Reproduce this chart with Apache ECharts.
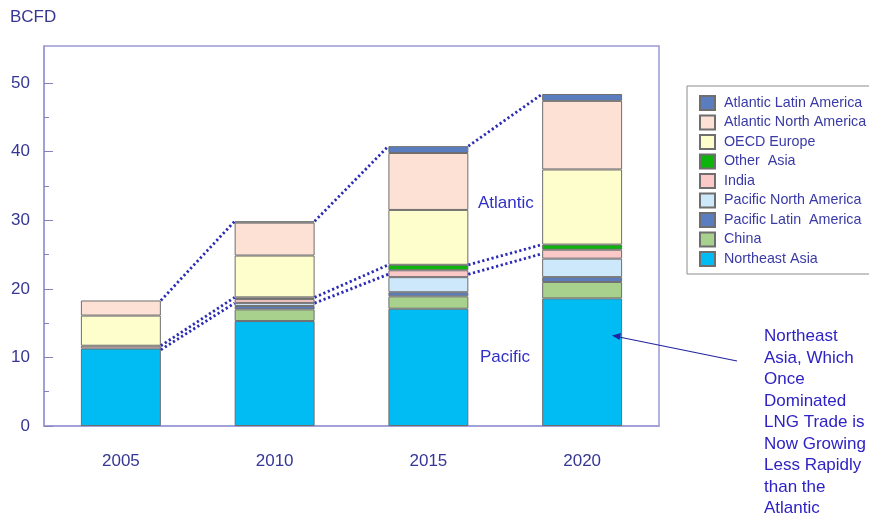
<!DOCTYPE html>
<html>
<head>
<meta charset="utf-8">
<script src="https://cdn.jsdelivr.net/npm/echarts@6/dist/echarts.min.js"></script>
<style>
  html, body { margin: 0; padding: 0; background: #fff; }
  #chart { width: 869px; height: 517px; }
</style>
</head>
<body>
<div id="chart"></div>
<script>
// LNG trade by region, BCFD
const years = ['2005', '2010', '2015', '2020'];
const northeastAsia        = [11.3, 15.3, 17.1, 18.6];
const china                = [null, 1.7, 1.8, 2.4];
const pacificLatinAmerica  = [null, 0.5, 0.6, 0.7];
const pacificNorthAmerica  = [null, 0.45, 2.2, 2.7];
const india                = [0.4, 0.55, 1.0, 1.3];
const otherAsia            = [null, 0.25, 0.8, 0.75];
const oecdEurope           = [4.4, 6.1, 8.0, 10.95];
const atlanticNorthAmerica = [2.2, 4.8, 8.3, 10.0];
const atlanticLatinAmerica = [null, 0.2, 1.0, 1.0];

const majorTicks = [0, 10, 20, 30, 40, 50];
const minorTicks = [5, 15, 25, 35, 45];

const FONT = '"Liberation Sans", Arial, sans-serif';
const AXIS_COLOR = '#9c9ad6';
const TICK_COLOR = '#8482bc';
const LABEL_COLOR = '#363694';

// stacking order, bottom to top
const stackSeries = [
  { name: 'Northeast Asia',          data: northeastAsia,        color: '#00bcf2' },
  { name: 'China',                   data: china,                color: '#a9d18e' },
  { name: 'Pacific Latin  America',  data: pacificLatinAmerica,  color: '#5a7dbf' },
  { name: 'Pacific North America',   data: pacificNorthAmerica,  color: '#cde8fb' },
  { name: 'India',                   data: india,                color: '#fcc9c9' },
  { name: 'Other  Asia',             data: otherAsia,            color: '#0cb40c' },
  { name: 'OECD Europe',             data: oecdEurope,           color: '#fefdcc' },
  { name: 'Atlantic North America',  data: atlanticNorthAmerica, color: '#fde1d5' },
  { name: 'Atlantic Latin America',  data: atlanticLatinAmerica, color: '#5a7dbf' }
];

const sumOf = (arrs, i) => arrs.reduce((s, a) => s + (a[i] || 0), 0);
const pacificParts = [northeastAsia, china, pacificLatinAmerica, pacificNorthAmerica, india, otherAsia];
const allParts = stackSeries.map(s => s.data);

const totalTop = years.map((_, i) => sumOf(allParts, i));
const pacificTop = years.map((_, i) => sumOf(pacificParts, i));
const pacificTopNoOther = years.map((_, i) => sumOf(pacificParts.slice(0, 5), i));

const BAR_RATIO = 0.52;

// dotted connector between the right corner of one bar and the left corner of the next
function connector(tops, yShift) {
  const data = [];
  for (let i = 0; i < tops.length - 1; i++) data.push([i, tops[i], tops[i + 1]]);
  return {
    type: 'custom',
    silent: true,
    z: 10,
    encode: { x: 0, y: [1, 2] },
    data: data,
    renderItem: function (params, api) {
      const i = api.value(0);
      const a = api.coord([i, api.value(1)]);
      const b = api.coord([i + 1, api.value(2)]);
      const half = api.size([1, 0])[0] * BAR_RATIO / 2;
      return {
        type: 'line',
        shape: { x1: a[0] + half, y1: a[1] + yShift, x2: b[0] - half, y2: b[1] + yShift },
        style: { stroke: '#2a2ab4', lineWidth: 2.8, lineDash: [2.2, 2.6], fill: null }
      };
    }
  };
}

const series = stackSeries.map(s => ({
  name: s.name,
  type: 'bar',
  stack: 'lng',
  barWidth: (BAR_RATIO * 100) + '%',
  data: s.data.map(v => (v == null ? '-' : v)),
  itemStyle: { color: s.color, borderColor: '#6e6e6e', borderWidth: 1 },
  emphasis: { disabled: true }
}));
series.push(connector(totalTop, 0));
series.push(connector(pacificTop, 0));
series.push(connector(pacificTopNoOther, 4));

const chart = echarts.init(document.getElementById('chart'), null, { renderer: 'canvas' });
chart.setOption({
  animation: false,
  backgroundColor: '#ffffff',
  textStyle: { fontFamily: FONT },
  title: {
    text: 'BCFD', left: 5, top: 4,
    textStyle: { fontSize: 17, fontWeight: 'normal', color: LABEL_COLOR, fontFamily: FONT }
  },
  grid: {
    left: 44, right: 210, top: 46, bottom: 91,
    show: true, borderColor: AXIS_COLOR, borderWidth: 1.5, backgroundColor: 'transparent'
  },
  legend: {
    orient: 'vertical', left: 687, top: 86,
    padding: [9, 4, 7, 12],
    itemWidth: 15, itemHeight: 14, itemGap: 3.5,
    icon: 'rect',
    selectedMode: false,
    borderColor: '#8c8c8c', borderWidth: 1,
    textStyle: { fontSize: 14.3, color: '#3a3aa6', fontFamily: FONT, padding: [0, 0, 0, 4] },
    data: stackSeries.map(s => s.name).reverse()
  },
  xAxis: {
    type: 'category',
    data: years,
    axisLine: { lineStyle: { color: AXIS_COLOR, width: 1.5 } },
    axisTick: { inside: true, length: 5, alignWithLabel: true, lineStyle: { color: '#6a6aa8' } },
    axisLabel: { fontSize: 17, color: LABEL_COLOR, margin: 27, fontFamily: FONT }
  },
  yAxis: [{
    type: 'value', min: 0, max: 55.4,
    splitLine: { show: false },
    axisLine: { show: true, lineStyle: { color: AXIS_COLOR, width: 1.5 } },
    axisTick: { show: true, inside: true, length: 9, customValues: majorTicks, lineStyle: { color: TICK_COLOR } },
    axisLabel: { fontSize: 17, color: LABEL_COLOR, margin: 14, fontFamily: FONT, customValues: majorTicks }
  }, {
    type: 'value', min: 0, max: 55.4, position: 'left',
    splitLine: { show: false },
    axisLine: { show: false },
    axisTick: { show: true, inside: true, length: 5, customValues: minorTicks, lineStyle: { color: TICK_COLOR } },
    axisLabel: { show: false }
  }],
  graphic: [
    { type: 'text', left: 478, top: 195, z: 100, style: { text: 'Atlantic', fill: '#3030c8', font: '17px ' + FONT } },
    { type: 'text', left: 480, top: 349, z: 100, style: { text: 'Pacific', fill: '#3030c8', font: '17px ' + FONT } },
    {
      type: 'text', left: 764, top: 326, z: 100,
      style: {
        text: 'Northeast\nAsia, Which\nOnce\nDominated\nLNG Trade is\nNow Growing\nLess Rapidly\nthan the\nAtlantic',
        font: '17px ' + FONT, fill: '#2e22c4', lineHeight: 21.5
      }
    },
    { type: 'line', z: 100, shape: { x1: 737, y1: 361, x2: 619, y2: 337 }, style: { stroke: '#2424a0', lineWidth: 1.2 } },
    { type: 'polygon', z: 100, shape: { points: [[612, 335.5], [621, 333], [619.5, 340]] }, style: { fill: '#2424a0' } }
  ],
  series: series
});
</script>
</body>
</html>
